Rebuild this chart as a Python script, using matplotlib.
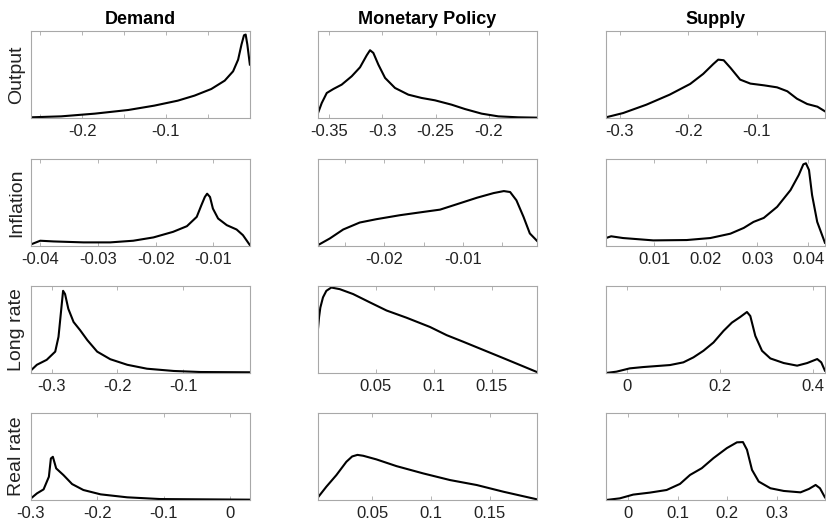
import matplotlib
matplotlib.use('Agg')
import matplotlib.pyplot as plt

plt.rcParams['font.family'] = ['Liberation Sans', 'DejaVu Sans']

shocks = ['Demand', 'Monetary Policy', 'Supply']
variables = ['Output', 'Inflation', 'Long rate', 'Real rate']

# density curves (y is relative height)
out_dem_x = [-0.261, -0.225, -0.185, -0.145, -0.114, -0.086, -0.066, -0.046, -0.030, -0.020, -0.014, -0.010,
             -0.007, -0.005, -0.003, 0.0]
out_dem_y = [0.008, 0.019, 0.050, 0.092, 0.142, 0.199, 0.257, 0.333, 0.429, 0.536, 0.670, 0.843,
             0.950, 0.958, 0.843, 0.613]
out_mp_x = [-0.3603, -0.3568, -0.3521, -0.3459, -0.3381, -0.3287, -0.3209, -0.3146, -0.3115, -0.3084, -0.3037,
            -0.2974, -0.2881, -0.2756, -0.2631, -0.2506, -0.2350, -0.2225, -0.2068, -0.1912, -0.1725, -0.155]
out_mp_y = [0.057, 0.172, 0.287, 0.333, 0.383, 0.479, 0.582, 0.720, 0.778, 0.747, 0.613,
            0.460, 0.345, 0.268, 0.230, 0.203, 0.153, 0.103, 0.050, 0.019, 0.008, 0.004]
out_sup_x = [-0.32, -0.295, -0.261, -0.227, -0.197, -0.178, -0.163, -0.156, -0.148, -0.138, -0.124, -0.109,
             -0.089, -0.070, -0.055, -0.041, -0.026, -0.011, 0.0]
out_sup_y = [0.008, 0.057, 0.153, 0.268, 0.391, 0.506, 0.621, 0.670, 0.663, 0.575, 0.441, 0.395,
             0.375, 0.352, 0.307, 0.222, 0.161, 0.130, 0.077]

inf_dem_x = [-0.0416, -0.0400, -0.0377, -0.0325, -0.0279, -0.0239, -0.0204, -0.0170, -0.0146, -0.0129, -0.0121,
             -0.0115, -0.0111, -0.0106, -0.0101, -0.0092, -0.0077, -0.0060, -0.0049, -0.0037]
inf_dem_y = [0.019, 0.061, 0.053, 0.042, 0.042, 0.061, 0.099, 0.163, 0.228, 0.335, 0.468,
             0.563, 0.601, 0.563, 0.430, 0.316, 0.240, 0.190, 0.125, 0.011]
inf_mp_x = [-0.0284, -0.0269, -0.0252, -0.0231, -0.0210, -0.0180, -0.0150, -0.0129, -0.0108, -0.0082,
            -0.0061, -0.0048, -0.0040, -0.0032, -0.0023, -0.0015, -0.0006]
inf_mp_y = [0.011, 0.087, 0.19, 0.27, 0.308, 0.354, 0.392, 0.418, 0.479, 0.555,
            0.608, 0.631, 0.620, 0.525, 0.335, 0.145, 0.061]
inf_sup_x = [0.0006, 0.0016, 0.0039, 0.0098, 0.0163, 0.0209, 0.0248, 0.0274, 0.0293, 0.0313, 0.0339, 0.0365,
             0.0381, 0.0390, 0.0395, 0.0401, 0.0407, 0.0417, 0.0432]
inf_sup_y = [0.092, 0.112, 0.092, 0.065, 0.069, 0.092, 0.142, 0.208, 0.277, 0.323, 0.450, 0.642,
             0.815, 0.938, 0.950, 0.873, 0.585, 0.277, 0.038]

lr_dem_x = [-0.332, -0.323, -0.308, -0.295, -0.290, -0.286, -0.283, -0.280, -0.275, -0.267, -0.257, -0.246,
            -0.231, -0.211, -0.185, -0.155, -0.114, -0.073, 0.002]
lr_dem_y = [0.030, 0.094, 0.151, 0.245, 0.415, 0.717, 0.943, 0.906, 0.736, 0.585, 0.491, 0.377,
            0.245, 0.158, 0.094, 0.049, 0.023, 0.011, 0.008]
lr_mp_x = [0.0, 0.0009, 0.0020, 0.0043, 0.0072, 0.0115, 0.0188, 0.0303, 0.0447, 0.0592, 0.0765, 0.0967,
           0.1111, 0.1255, 0.1428, 0.1601, 0.1774, 0.189]
lr_mp_y = [0.509, 0.64, 0.75, 0.868, 0.943, 0.981, 0.962, 0.906, 0.811, 0.717, 0.634, 0.528,
           0.434, 0.358, 0.264, 0.170, 0.075, 0.011]
lr_sup_x = [-0.045, -0.0227, 0.0061, 0.0349, 0.0926, 0.1214, 0.1430, 0.1646, 0.1862, 0.2078, 0.2258, 0.2438,
            0.2582, 0.2654, 0.2762, 0.2906, 0.3086, 0.3374, 0.3662, 0.3878, 0.4094, 0.4181, 0.426]
lr_sup_y = [0.0, 0.015, 0.053, 0.068, 0.091, 0.122, 0.179, 0.255, 0.350, 0.483, 0.578, 0.643,
            0.700, 0.654, 0.426, 0.255, 0.167, 0.114, 0.084, 0.114, 0.160, 0.122, 0.027]

rr_dem_x = [-0.3, -0.291, -0.281, -0.273, -0.270, -0.267, -0.262, -0.251, -0.238, -0.221, -0.195, -0.155,
            -0.105, 0.03]
rr_dem_y = [0.019, 0.076, 0.122, 0.267, 0.477, 0.496, 0.363, 0.286, 0.183, 0.115, 0.065, 0.031,
            0.011, 0.004]
rr_mp_x = [0.004, 0.0111, 0.0196, 0.0281, 0.0330, 0.0375, 0.0424, 0.0537, 0.0707, 0.0935, 0.1162, 0.1389,
           0.1616, 0.19]
rr_mp_y = [0.031, 0.153, 0.286, 0.439, 0.500, 0.518, 0.508, 0.466, 0.389, 0.305, 0.229, 0.172,
           0.095, 0.008]
rr_sup_x = [-0.044, -0.0164, 0.0105, 0.0441, 0.0778, 0.1047, 0.1249, 0.1484, 0.1720, 0.1989, 0.2191, 0.2312,
            0.2393, 0.2494, 0.2629, 0.2864, 0.3133, 0.3469, 0.3638, 0.3773, 0.3860, 0.396]
rr_sup_y = [0.0, 0.019, 0.062, 0.085, 0.115, 0.185, 0.288, 0.365, 0.481, 0.596, 0.662, 0.665,
            0.577, 0.346, 0.212, 0.135, 0.104, 0.088, 0.127, 0.173, 0.135, 0.031]

curves = [
    [(out_dem_x, out_dem_y), (out_mp_x, out_mp_y), (out_sup_x, out_sup_y)],
    [(inf_dem_x, inf_dem_y), (inf_mp_x, inf_mp_y), (inf_sup_x, inf_sup_y)],
    [(lr_dem_x, lr_dem_y), (lr_mp_x, lr_mp_y), (lr_sup_x, lr_sup_y)],
    [(rr_dem_x, rr_dem_y), (rr_mp_x, rr_mp_y), (rr_sup_x, rr_sup_y)],
]

# axis limits and labelled ticks per panel
xlims = [
    [(-0.261, 0.0), (-0.3603, -0.155), (-0.32, 0.0)],
    [(-0.0416, -0.0037), (-0.0284, -0.0006), (0.0006, 0.0432)],
    [(-0.332, 0.002), (0.0, 0.189), (-0.045, 0.426)],
    [(-0.3, 0.03), (0.004, 0.19), (-0.044, 0.396)],
]
tick_labels = [
    [['-0.2', '-0.1'], ['-0.35', '-0.3', '-0.25', '-0.2'], ['-0.3', '-0.2', '-0.1']],
    [['-0.04', '-0.03', '-0.02', '-0.01'], ['-0.02', '-0.01'], ['0.01', '0.02', '0.03', '0.04']],
    [['-0.3', '-0.2', '-0.1'], ['0.05', '0.1', '0.15'], ['0', '0.2', '0.4']],
    [['-0.3', '-0.2', '-0.1', '0'], ['0.05', '0.1', '0.15'], ['0', '0.1', '0.2', '0.3']],
]
minor_ticks = [
    [[-0.25, -0.15, -0.05], [], []],
    [[], [-0.025, -0.015, -0.005], []],
    [[], [], []],
    [[], [], []],
]

fig = plt.figure(figsize=(8.26, 5.28), dpi=100)
lefts = [0.0375, 0.385, 0.7337]
bottoms = [0.7765, 0.534, 0.2936, 0.053]
w, h = 0.265, 0.165
edge = '#a8a8a8'

for r in range(4):
    for c in range(3):
        ax = fig.add_axes([lefts[c], bottoms[r], w, h])
        x, y = curves[r][c]
        ax.plot(x, y, color='black', linewidth=1.5, solid_joinstyle='round')
        ax.set_xlim(*xlims[r][c])
        ax.set_ylim(0, 1.0)
        ax.set_yticks([])
        labs = tick_labels[r][c]
        ax.set_xticks([float(s) for s in labs])
        ax.set_xticklabels(labs)
        ax.set_xticks(minor_ticks[r][c], minor=True)
        ax.tick_params(axis='x', which='both', direction='in', top=True, length=3,
                       width=0.6, color=edge, labelsize=12, pad=4, labelcolor='#222222')
        for sp in ax.spines.values():
            sp.set_color(edge)
            sp.set_linewidth(0.8)
        if r == 0:
            ax.set_title(shocks[c], fontsize=13, fontweight='bold', pad=5)
        if c == 0:
            ax.set_ylabel(variables[r], fontsize=14, labelpad=4, color='#222222')

plt.savefig('out.png', dpi=100)
